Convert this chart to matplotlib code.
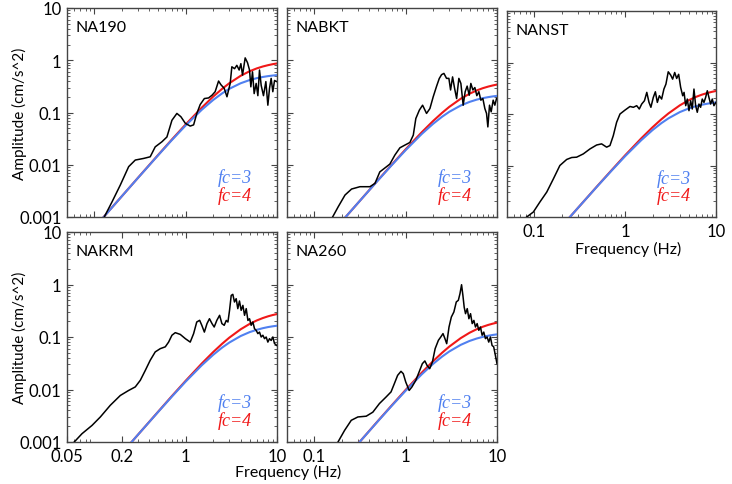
"""
Observed acceleration spectra vs. omega-square source models (fc = 3 and 4 Hz)
for five stations, log-log panels.
"""
import matplotlib
matplotlib.use("Agg")
import matplotlib.pyplot as plt
from matplotlib.ticker import LogLocator, NullFormatter, FixedLocator, FixedFormatter

# ---- model curves (shared frequency grid) ---------------------------------
MODEL_F = [0.1, 0.15, 0.2, 0.3, 0.5, 0.7, 1, 1.5, 2, 2.5, 3, 4, 5, 6, 7, 8, 9, 10]

NA190_FC3 = [0.00063, 0.00141, 0.00251, 0.00561, 0.0153, 0.0293, 0.0567, 0.113, 0.174,
             0.232, 0.284, 0.363, 0.417, 0.454, 0.479, 0.497, 0.510, 0.520]
NA190_FC4 = [0.00063, 0.00142, 0.00251, 0.00564, 0.0155, 0.0300, 0.0593, 0.124, 0.202,
             0.283, 0.363, 0.504, 0.615, 0.698, 0.760, 0.806, 0.842, 0.869]

NABKT_FC3 = [0.000209, 0.000468, 0.000832, 0.00186, 0.00509, 0.00976, 0.0191, 0.0389,
             0.0610, 0.0829, 0.1031, 0.136, 0.1595, 0.1764, 0.1882, 0.1968, 0.2033, 0.208]
NABKT_FC4 = [0.000209, 0.000468, 0.000832, 0.00186, 0.00515, 0.00996, 0.0198, 0.042,
             0.0691, 0.0984, 0.1282, 0.1832, 0.2287, 0.2645, 0.2922, 0.3132, 0.3297, 0.3427]

NANST_FC3 = [0.000166, 0.000372, 0.00066, 0.00148, 0.00405, 0.00776, 0.0152, 0.0309,
             0.0487, 0.0663, 0.0825, 0.109, 0.128, 0.1417, 0.1513, 0.1584, 0.1636, 0.168]
NANST_FC4 = [0.000166, 0.000372, 0.00066, 0.00148, 0.00409, 0.00791, 0.0158, 0.0335,
             0.0552, 0.0788, 0.1028, 0.1474, 0.1849, 0.2146, 0.2376, 0.2554, 0.2691, 0.2801]

NAKRM_FC3 = [0.000154, 0.000346, 0.000615, 0.00138, 0.00376, 0.00723, 0.0142, 0.029,
             0.0458, 0.0627, 0.0783, 0.1044, 0.1236, 0.1372, 0.1472, 0.1547, 0.160, 0.164]
NAKRM_FC4 = [0.000154, 0.000346, 0.000615, 0.00138, 0.0038, 0.00739, 0.0147, 0.0313,
             0.0517, 0.0741, 0.0971, 0.1403, 0.177, 0.2066, 0.2297, 0.2481, 0.2624, 0.2735]

NA260_FC3 = [0.000103, 0.000232, 0.000412, 0.000925, 0.00253, 0.00486, 0.00952, 0.0195,
             0.0309, 0.0423, 0.053, 0.0708, 0.0841, 0.0936, 0.1006, 0.1056, 0.1094, 0.1123]
NA260_FC4 = [0.000103, 0.000232, 0.000412, 0.000925, 0.00256, 0.00495, 0.00987, 0.021,
             0.0348, 0.050, 0.0656, 0.0951, 0.1204, 0.1408, 0.157, 0.1697, 0.1796, 0.1876]

# ---- observed spectra -------------------------------------------------------
NA190_F = [0.128, 0.156, 0.192, 0.237, 0.280, 0.345, 0.408, 0.463, 0.548, 0.622, 0.706,
           0.80, 0.885, 0.99, 1.12, 1.22, 1.32, 1.44, 1.60, 1.78, 1.94, 2.10, 2.29, 2.43,
           2.64, 2.83, 3.07, 3.20, 3.43, 3.63, 3.85, 4.02, 4.19, 4.48, 4.75, 5.0, 5.17,
           5.39, 5.62, 5.91, 6.17, 6.43, 6.71, 7.11, 7.55, 7.94, 8.28, 8.63, 9.0, 9.4, 9.95]
NA190_A = [0.001, 0.00196, 0.0041, 0.0092, 0.0123, 0.0132, 0.0142, 0.022, 0.0275, 0.034,
           0.071, 0.096, 0.083, 0.062, 0.055, 0.058, 0.095, 0.142, 0.185, 0.19, 0.214, 0.25,
           0.40, 0.34, 0.29, 0.20, 0.36, 0.75, 0.69, 0.80, 0.65, 0.86, 0.52, 1.11, 0.90,
           0.65, 0.31, 0.60, 0.23, 0.36, 0.21, 0.65, 0.33, 0.21, 0.39, 0.138, 0.29, 0.45,
           0.25, 0.41, 0.39]

NABKT_F = [0.158, 0.182, 0.216, 0.255, 0.315, 0.405, 0.46, 0.52, 0.617, 0.67, 0.76, 0.863,
           0.98, 1.11, 1.21, 1.29, 1.41, 1.53, 1.69, 1.84, 2.0, 2.18, 2.33, 2.47, 2.62, 2.80,
           2.97, 3.10, 3.26, 3.43, 3.61, 3.82, 4.02, 4.26, 4.48, 4.71, 4.96, 5.17, 5.44,
           5.72, 6.01, 6.33, 6.65, 7.0, 7.36, 7.68, 7.94, 8.28, 8.63, 9.08, 9.47, 9.88]
NABKT_A = [0.001, 0.00157, 0.00263, 0.00343, 0.0038, 0.0038, 0.0044, 0.0073, 0.0092, 0.0103,
           0.0153, 0.0211, 0.0238, 0.0267, 0.0369, 0.0767, 0.111, 0.138, 0.096, 0.119, 0.20,
           0.32, 0.447, 0.53, 0.56, 0.45, 0.45, 0.27, 0.48, 0.29, 0.185, 0.45, 0.36, 0.138,
           0.25, 0.32, 0.214, 0.36, 0.27, 0.30, 0.21, 0.25, 0.172, 0.185, 0.119, 0.096,
           0.053, 0.138, 0.103, 0.172, 0.138, 0.185]

NANST_F = [0.0824, 0.0975, 0.115, 0.137, 0.162, 0.191, 0.227, 0.258, 0.292, 0.346, 0.41,
           0.485, 0.55, 0.625, 0.68, 0.74, 0.805, 0.877, 0.995, 1.13, 1.23, 1.34, 1.43, 1.52,
           1.63, 1.73, 1.83, 1.92, 2.04, 2.15, 2.26, 2.38, 2.52, 2.67, 2.81, 2.98, 3.17,
           3.33, 3.51, 3.69, 3.88, 4.08, 4.3, 4.45, 4.64, 4.83, 5.04, 5.26, 5.48, 5.72,
           5.97, 6.22, 6.49, 6.77, 7.06, 7.37, 7.69, 8.02, 8.36, 8.73, 9.1, 9.49, 9.98]
NANST_A = [0.001, 0.00125, 0.00195, 0.00305, 0.0055, 0.010, 0.0131, 0.0143, 0.0145, 0.0168,
           0.021, 0.025, 0.0263, 0.0227, 0.0244, 0.038, 0.069, 0.10, 0.119, 0.14, 0.135,
           0.145, 0.125, 0.156, 0.181, 0.263, 0.168, 0.135, 0.21, 0.27, 0.168, 0.226, 0.195,
           0.305, 0.38, 0.66, 0.57, 0.475, 0.64, 0.49, 0.59, 0.33, 0.226, 0.263, 0.145,
           0.195, 0.116, 0.181, 0.125, 0.305, 0.145, 0.108, 0.156, 0.135, 0.195, 0.168,
           0.21, 0.283, 0.21, 0.156, 0.195, 0.145, 0.168]

NAKRM_F = [0.060, 0.073, 0.094, 0.116, 0.149, 0.192, 0.237, 0.28, 0.318, 0.36, 0.408, 0.463,
           0.526, 0.597, 0.649, 0.706, 0.768, 0.871, 0.99, 1.12, 1.22, 1.32, 1.42, 1.50,
           1.60, 1.71, 1.82, 1.94, 2.05, 2.19, 2.35, 2.49, 2.64, 2.78, 2.90, 3.02, 3.15,
           3.28, 3.42, 3.57, 3.72, 3.88, 4.05, 4.23, 4.41, 4.60, 4.80, 5.0, 5.21, 5.44,
           5.67, 5.91, 6.17, 6.43, 6.71, 7.0, 7.3, 7.61, 7.94, 8.28, 8.63, 9.0, 9.39, 9.95]
NAKRM_A = [0.001, 0.00144, 0.00207, 0.003, 0.005, 0.0077, 0.0096, 0.0112, 0.015, 0.023,
           0.036, 0.052, 0.060, 0.065, 0.080, 0.108, 0.121, 0.112, 0.093, 0.080, 0.116,
           0.193, 0.208, 0.167, 0.124, 0.18, 0.223, 0.18, 0.155, 0.207, 0.259, 0.18, 0.167,
           0.207, 0.193, 0.322, 0.62, 0.65, 0.464, 0.537, 0.347, 0.485, 0.322, 0.40, 0.259,
           0.347, 0.207, 0.223, 0.167, 0.193, 0.144, 0.134, 0.116, 0.124, 0.10, 0.108,
           0.093, 0.10, 0.080, 0.093, 0.086, 0.10, 0.075, 0.069]

NA260_F = [0.181, 0.214, 0.253, 0.299, 0.369, 0.436, 0.515, 0.609, 0.69, 0.75, 0.815, 0.887,
           0.94, 1.0, 1.09, 1.17, 1.29, 1.40, 1.52, 1.62, 1.71, 1.83, 1.96, 2.1, 2.28, 2.42,
           2.56, 2.69, 2.81, 2.98, 3.16, 3.37, 3.58, 3.77, 3.93, 4.09, 4.23, 4.37, 4.52,
           4.72, 4.92, 5.13, 5.35, 5.58, 5.81, 6.06, 6.32, 6.59, 6.87, 7.16, 7.47, 7.79,
           8.12, 8.47, 8.83, 9.2, 9.59, 10.0]
NA260_A = [0.001, 0.00167, 0.00259, 0.003, 0.0031, 0.0037, 0.0054, 0.0072, 0.009, 0.0129,
           0.0186, 0.0222, 0.020, 0.0139, 0.0096, 0.0112, 0.015, 0.0215, 0.031, 0.035,
           0.0289, 0.0249, 0.0334, 0.060, 0.0865, 0.10, 0.116, 0.093, 0.0746, 0.155, 0.24,
           0.30, 0.465, 0.50, 0.67, 0.99, 0.62, 0.37, 0.278, 0.347, 0.223, 0.278, 0.18,
           0.207, 0.155, 0.18, 0.134, 0.155, 0.108, 0.124, 0.093, 0.10, 0.080, 0.10, 0.069,
           0.065, 0.045, 0.031]

STATIONS = ["NA190", "NABKT", "NANST", "NAKRM", "NA260"]

BLUE = "#5080F0"
RED = "#F01818"
FONT = ["Lato", "DejaVu Sans"]

plt.rcParams["font.family"] = FONT
plt.rcParams["axes.linewidth"] = 1.0
plt.rcParams["axes.edgecolor"] = "#444444"


def style_axes(ax, xlabels=None, ylabels=False):
    ax.set_xscale("log")
    ax.set_yscale("log")
    ax.set_xlim(0.05, 10)
    ax.set_ylim(0.001, 10)
    ax.tick_params(which="both", direction="in", top=True, right=True,
                   color="#444444", labelsize=12, pad=4)
    ax.tick_params(which="major", length=4, width=0.8)
    ax.tick_params(which="minor", length=2.5, width=0.6)
    ax.yaxis.set_major_locator(FixedLocator([0.001, 0.01, 0.1, 1, 10]))
    ax.yaxis.set_minor_locator(LogLocator(base=10, subs=range(2, 10)))
    ax.yaxis.set_minor_formatter(NullFormatter())
    if ylabels:
        ax.yaxis.set_major_formatter(FixedFormatter(["0.001", "0.01", "0.1", "1", "10"]))
        ax.set_ylabel("Amplitude (cm/s^2)", fontsize=11)
        ax.yaxis.set_label_coords(-0.19, 0.5)
    else:
        ax.yaxis.set_major_formatter(NullFormatter())
    ax.xaxis.set_minor_locator(LogLocator(base=10, subs=range(2, 10)))
    ax.xaxis.set_minor_formatter(NullFormatter())
    if xlabels:
        ax.xaxis.set_major_locator(FixedLocator(xlabels))
        ax.xaxis.set_major_formatter(FixedFormatter([f"{v:g}" for v in xlabels]))
    else:
        ax.xaxis.set_major_locator(FixedLocator([0.1, 1, 10]))
        ax.xaxis.set_major_formatter(NullFormatter())


def draw_panel(ax, name, f_obs, a_obs, fc3, fc4):
    ax.plot(MODEL_F, fc4, color=RED, lw=1.5, zorder=2)
    ax.plot(MODEL_F, fc3, color=BLUE, lw=1.5, zorder=3)
    ax.plot(f_obs, a_obs, color="black", lw=1.1, zorder=4)
    ax.text(0.04, 0.91, name, transform=ax.transAxes, fontsize=11.5,
            ha="left", va="center")
    ax.text(0.80, 0.19, "fc=3", transform=ax.transAxes, color=BLUE,
            fontsize=13, family="Liberation Serif", style="italic",
            ha="center", va="center")
    ax.text(0.80, 0.105, "fc=4", transform=ax.transAxes, color=RED,
            fontsize=13, family="Liberation Serif", style="italic",
            ha="center", va="center")


W, H = 732, 485
fig = plt.figure(figsize=(W / 100, H / 100), dpi=100)


def rect(x0, y0, x1, y1):
    return [x0 / W, 1 - y1 / H, (x1 - x0) / W, (y1 - y0) / H]


ax1 = fig.add_axes(rect(67, 9, 277, 218))
ax2 = fig.add_axes(rect(287, 9, 497, 218))
ax3 = fig.add_axes(rect(507, 12, 716, 218))
ax4 = fig.add_axes(rect(67, 233, 277, 443))
ax5 = fig.add_axes(rect(287, 233, 497, 443))

style_axes(ax1, ylabels=True)
style_axes(ax2)
style_axes(ax3, xlabels=[0.1, 1, 10])
style_axes(ax4, xlabels=[0.05, 0.2, 1, 10], ylabels=True)
style_axes(ax5, xlabels=[0.1, 1, 10])

draw_panel(ax1, STATIONS[0], NA190_F, NA190_A, NA190_FC3, NA190_FC4)
draw_panel(ax2, STATIONS[1], NABKT_F, NABKT_A, NABKT_FC3, NABKT_FC4)
draw_panel(ax3, STATIONS[2], NANST_F, NANST_A, NANST_FC3, NANST_FC4)
draw_panel(ax4, STATIONS[3], NAKRM_F, NAKRM_A, NAKRM_FC3, NAKRM_FC4)
draw_panel(ax5, STATIONS[4], NA260_F, NA260_A, NA260_FC3, NA260_FC4)

ax3.set_xlabel("Frequency (Hz)", fontsize=11.5)
ax3.xaxis.set_label_coords(0.58, -0.115)
fig.text(288 / W, 1 - 472 / H, "Frequency (Hz)", fontsize=11.5, ha="center", va="center")

fig.savefig("out.png", dpi=100)
print("Saved out.png")
